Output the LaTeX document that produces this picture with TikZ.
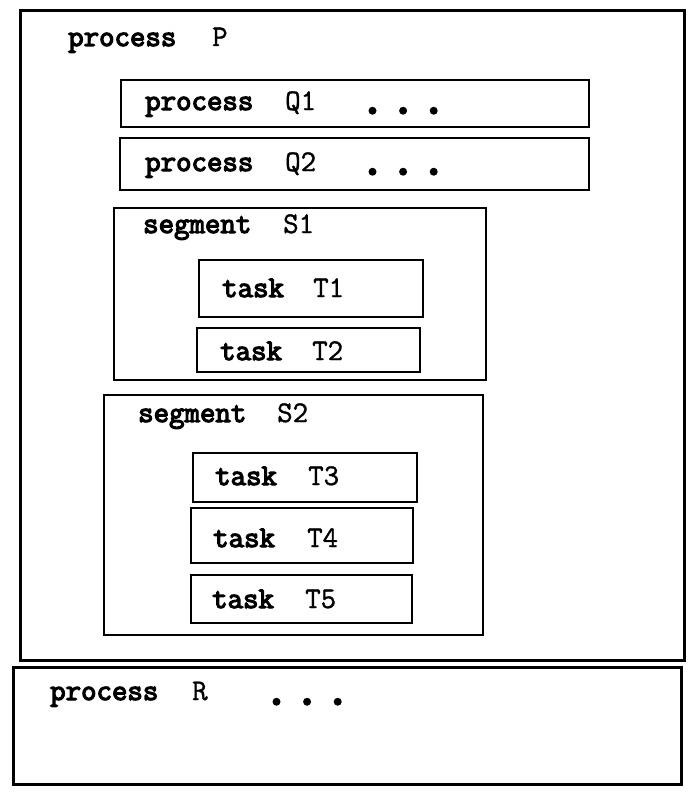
\documentclass[tikz,border=0pt]{standalone}
\usepackage{fontspec}
\newfontfamily\kwfont{Latin Modern Mono}[FakeBold=4]
\newfontfamily\nmfont{Latin Modern Mono}[FakeBold=1.2]
\newfontfamily\dotfont{Latin Modern Mono}[FakeBold=8]
\usetikzlibrary{calc}

\begin{document}
\begin{tikzpicture}[x=1pt,y=-1pt,
    box/.style={draw, line width=2.6pt, anchor=north west, inner sep=0pt, outer sep=0pt},
    kw/.style={anchor=base west, inner sep=0pt, font=\fontsize{30}{30}\selectfont\kwfont},
    nm/.style={anchor=base west, inner sep=0pt, font=\fontsize{30}{30}\selectfont\nmfont},
    more/.style={anchor=base west, inner sep=0pt, font=\fontsize{40}{40}\selectfont\dotfont}]
    \useasboundingbox (0,0) rectangle (688,792);

    % process P
    \node[box, line width=3pt, minimum width=664pt, minimum height=649pt] (P) at (20,11) {};
    \node[kw] (Pkw) at (68,46) {process};
    \node[nm] (Pnm) at (212,46) {P};

    % process Q1, Q2
    \node[box, minimum width=468pt, minimum height=47pt] (Q1) at (121,80) {};
    \node[kw] (Q1kw) at (145,110) {process};
    \node[nm] (Q1nm) at (285,110) {Q1};
    \node[more] (Q1more) at (362,113) {.\hspace{10pt}.\hspace{10pt}.};

    \node[box, minimum width=469pt, minimum height=52pt] (Q2) at (120,138) {};
    \node[kw] (Q2kw) at (145,171) {process};
    \node[nm] (Q2nm) at (285,171) {Q2};
    \node[more] (Q2more) at (362,174) {.\hspace{10pt}.\hspace{10pt}.};

    % segment S1
    \node[box, minimum width=372pt, minimum height=172pt] (S1) at (114,208) {};
    \node[kw] (S1kw) at (143,233) {segment};
    \node[nm] (S1nm) at (283,233) {S1};

    \node[box, minimum width=224pt, minimum height=57pt] (T1) at (199,260) {};
    \node[kw] (T1kw) at (222,297) {task};
    \node[nm] (T1nm) at (313,297) {T1};

    \node[box, minimum width=223pt, minimum height=44pt] (T2) at (197,328) {};
    \node[kw] (T2kw) at (220,360) {task};
    \node[nm] (T2nm) at (312,360) {T2};

    % segment S2
    \node[box, minimum width=379pt, minimum height=240pt] (S2) at (104,395) {};
    \node[kw] (S2kw) at (138,422) {segment};
    \node[nm] (S2nm) at (277,422) {S2};

    \node[box, minimum width=224pt, minimum height=49pt] (T3) at (193,453) {};
    \node[kw] (T3kw) at (215,485) {task};
    \node[nm] (T3nm) at (308,485) {T3};

    \node[box, minimum width=222pt, minimum height=55pt] (T4) at (191,508) {};
    \node[kw] (T4kw) at (213,547) {task};
    \node[nm] (T4nm) at (307,547) {T4};

    \node[box, minimum width=221pt, minimum height=48pt] (T5) at (191,575) {};
    \node[kw] (T5kw) at (212,608) {task};
    \node[nm] (T5nm) at (305,608) {T5};

    % process R
    \node[box, line width=3pt, minimum width=668pt, minimum height=117pt] (R) at (13,667) {};
    \node[kw] (Rkw) at (50,700) {process};
    \node[nm] (Rnm) at (192,700) {R};
    \node[more] (Rmore) at (266,704) {.\hspace{10pt}.\hspace{10pt}.};

\end{tikzpicture}
\end{document}
